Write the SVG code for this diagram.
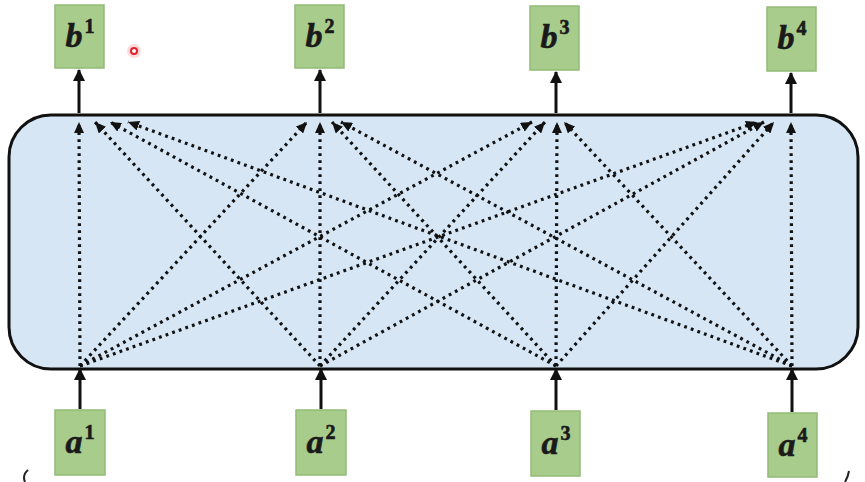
<svg xmlns="http://www.w3.org/2000/svg" width="865" height="482" viewBox="0 0 865 482">
<defs>
<style>
.box{fill:#a8cc8c;stroke:#92bb76;stroke-width:1.5}
.lbl{font-family:"Liberation Serif","DejaVu Serif",serif;font-weight:bold;font-style:italic;font-size:34px;fill:#1a1a1a;stroke:#1a1a1a;stroke-width:0.6}
.sup{font-style:normal;font-size:20px}
.dot{stroke:#111;stroke-width:3.2;stroke-dasharray:2.8 4.2;fill:none;marker-end:url(#ah)}
.solid{stroke:#111;stroke-width:3;fill:none;marker-end:url(#ahs)}
</style>
<marker id="ah" markerUnits="userSpaceOnUse" markerWidth="12" markerHeight="10" refX="11" refY="5" orient="auto"><path d="M0,0 L11,5 L0,10 z" fill="#111"/></marker>
<marker id="ahs" markerUnits="userSpaceOnUse" markerWidth="12" markerHeight="12" refX="11" refY="6" orient="auto"><path d="M0,0 L12,6 L0,12 z" fill="#111"/></marker>
</defs>
<rect width="865" height="482" fill="#ffffff"/>
<g id="attention-layer">
<rect x="9" y="115" width="849" height="254" rx="42" ry="42" fill="#d6e6f4" stroke="#111" stroke-width="3"/>
</g>
<g id="connectors">
<line class="solid" x1="79" y1="113" x2="79" y2="70"/>
<line class="solid" x1="320" y1="113" x2="320" y2="70"/>
<line class="solid" x1="556" y1="113" x2="556" y2="72"/>
<line class="solid" x1="791" y1="113" x2="791" y2="73"/>
<line class="solid" x1="80" y1="409" x2="80" y2="369"/>
<line class="solid" x1="321" y1="409" x2="321" y2="369"/>
<line class="solid" x1="556" y1="410" x2="556" y2="369"/>
<line class="solid" x1="792" y1="412" x2="792" y2="369"/>
<line class="dot" x1="80" y1="366" x2="79" y2="122"/>
<line class="dot" x1="320" y1="366" x2="95" y2="122"/>
<line class="dot" x1="556" y1="366" x2="110" y2="122"/>
<line class="dot" x1="792" y1="366" x2="128" y2="122"/>
<line class="dot" x1="80" y1="366" x2="307" y2="122"/>
<line class="dot" x1="320" y1="366" x2="320" y2="122"/>
<line class="dot" x1="556" y1="366" x2="332" y2="122"/>
<line class="dot" x1="792" y1="366" x2="341" y2="122"/>
<line class="dot" x1="80" y1="366" x2="532" y2="122"/>
<line class="dot" x1="320" y1="366" x2="545" y2="122"/>
<line class="dot" x1="556" y1="366" x2="557" y2="122"/>
<line class="dot" x1="792" y1="366" x2="564" y2="122"/>
<line class="dot" x1="80" y1="366" x2="757" y2="122"/>
<line class="dot" x1="320" y1="366" x2="764" y2="122"/>
<line class="dot" x1="556" y1="366" x2="774" y2="122"/>
<line class="dot" x1="792" y1="366" x2="791" y2="122"/>
</g>
<g id="b1"><rect class="box" x="55" y="5" width="49" height="63"/><text class="lbl" x="80" y="47" text-anchor="middle">b<tspan class="sup" dx="2" dy="-14">1</tspan></text></g>
<g id="b2"><rect class="box" x="295" y="5" width="49" height="63"/><text class="lbl" x="320" y="47" text-anchor="middle">b<tspan class="sup" dx="2" dy="-14">2</tspan></text></g>
<g id="b3"><rect class="box" x="530" y="6" width="49" height="64"/><text class="lbl" x="555" y="48" text-anchor="middle">b<tspan class="sup" dx="2" dy="-14">3</tspan></text></g>
<g id="b4"><rect class="box" x="767" y="7" width="49" height="64"/><text class="lbl" x="792" y="49" text-anchor="middle">b<tspan class="sup" dx="2" dy="-14">4</tspan></text></g>
<g id="a1"><rect class="box" x="55" y="410" width="50" height="65"/><text class="lbl" x="80" y="453" text-anchor="middle">a<tspan class="sup" dx="2" dy="-14">1</tspan></text></g>
<g id="a2"><rect class="box" x="296" y="410" width="50" height="65"/><text class="lbl" x="321" y="453" text-anchor="middle">a<tspan class="sup" dx="2" dy="-14">2</tspan></text></g>
<g id="a3"><rect class="box" x="531" y="411" width="49" height="65"/><text class="lbl" x="556" y="454" text-anchor="middle">a<tspan class="sup" dx="2" dy="-14">3</tspan></text></g>
<g id="a4"><rect class="box" x="768" y="413" width="49" height="64"/><text class="lbl" x="793" y="456" text-anchor="middle">a<tspan class="sup" dx="2" dy="-14">4</tspan></text></g>
<g id="marks">
<circle cx="134" cy="51" r="7" fill="#ff3030" opacity="0.18"/>
<circle cx="134" cy="51" r="3" fill="#fff" stroke="#e8202a" stroke-width="2"/>
<path d="M28,470 Q22,475 25,482" fill="none" stroke="#222" stroke-width="2"/>
<path d="M849,471 Q848,477 845,482" fill="none" stroke="#222" stroke-width="2"/>
</g>
</svg>
